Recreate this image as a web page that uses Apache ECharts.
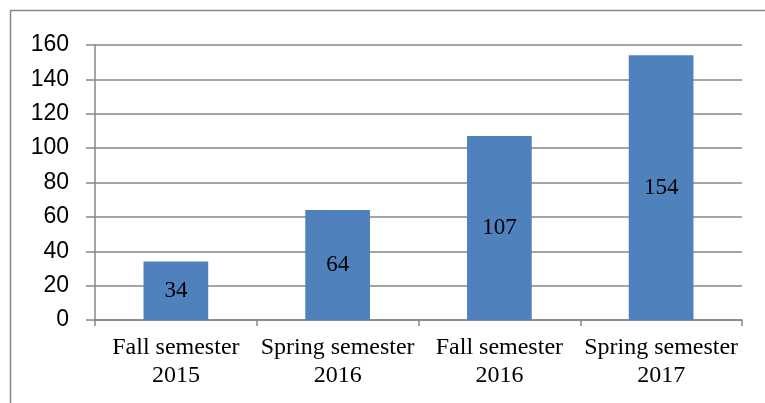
<!DOCTYPE html>
<html>
<head>
<meta charset="utf-8">
<script src="https://cdn.jsdelivr.net/npm/echarts@6/dist/echarts.min.js"></script>
<style>
  html, body { margin: 0; padding: 0; background: #fff; }
  #chart { width: 765px; height: 403px; }
</style>
</head>
<body>
<div id="chart"></div>
<script>
// semesters and number of students
const categories = ['Fall semester\n2015', 'Spring semester\n2016', 'Fall semester\n2016', 'Spring semester\n2017'];
const values = [34, 64, 107, 154];
const yTicks = { min: 0, max: 160, interval: 20 };

const chart = echarts.init(document.getElementById('chart'));

const gray = '#878787';

chart.setOption({
  animation: false,
  graphic: [
    {
      type: 'rect',
      shape: { x: 10.5, y: 10.5, width: 800, height: 500 },
      style: { fill: 'none', stroke: gray, lineWidth: 1.5 },
      silent: true
    }
  ],
  grid: { left: 95, right: 23, top: 45, bottom: 83 },
  xAxis: {
    type: 'category',
    data: categories,
    axisLine: { lineStyle: { color: gray, width: 1.5 } },
    axisTick: { show: true, length: 6, lineStyle: { color: gray, width: 1.5 } },
    axisLabel: {
      color: '#000',
      fontFamily: 'Liberation Serif',
      fontSize: 24,
      lineHeight: 28,
      margin: 14,
      interval: 0
    }
  },
  yAxis: {
    type: 'value',
    min: yTicks.min,
    max: yTicks.max,
    interval: yTicks.interval,
    axisLine: { show: true, lineStyle: { color: gray, width: 1.5 } },
    axisTick: { show: true, length: 9, lineStyle: { color: gray, width: 1.5 } },
    splitLine: { lineStyle: { color: gray, width: 1.5 } },
    axisLabel: {
      color: '#000',
      fontFamily: 'Liberation Sans',
      fontSize: 23,
      margin: 26
    }
  },
  series: [
    {
      type: 'bar',
      data: values,
      barWidth: '40%',
      itemStyle: { color: '#4F81BD' },
      label: {
        show: true,
        position: 'inside',
        color: '#000',
        fontFamily: 'Liberation Serif',
        fontSize: 23
      }
    }
  ]
});
</script>
</body>
</html>
